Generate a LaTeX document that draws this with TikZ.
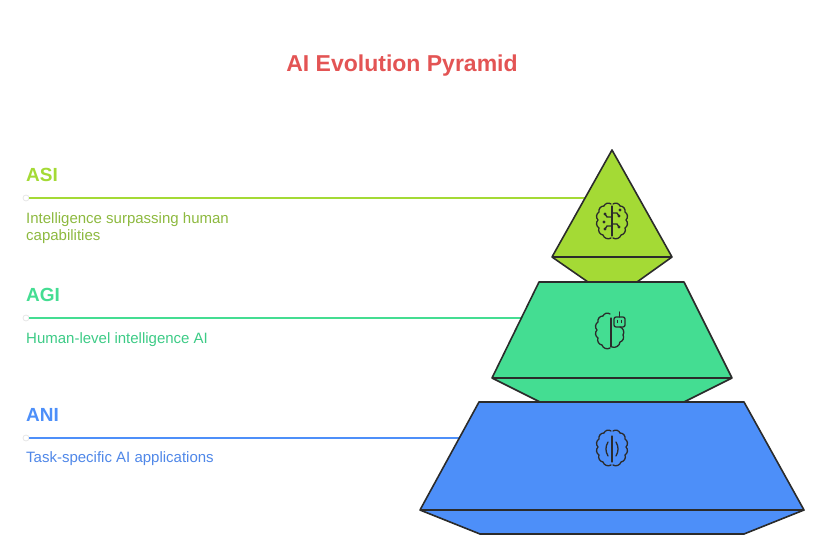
\documentclass[tikz,border=0pt]{standalone}
\usepackage{fontspec}
\setmainfont{Liberation Sans}
\usepackage{tikz}
\usepackage{xcolor}
\usetikzlibrary{arrows.meta, positioning, calc}

\definecolor{titlecol}{HTML}{E35454}
\definecolor{edgecol}{HTML}{2B2B2B}
\definecolor{dotcol}{HTML}{E6E6E6}
\definecolor{asifill}{HTML}{A4DA35}
\definecolor{asitext}{HTML}{8DB93F}
\definecolor{agifill}{HTML}{44DD92}
\definecolor{agitext}{HTML}{3DCB86}
\definecolor{anifill}{HTML}{4D8FF9}
\definecolor{anitext}{HTML}{4F87E8}

\begin{document}
\begin{tikzpicture}[x=1pt, y=-1pt,
    tier/.style={draw=edgecol, line width=1.6pt, line join=round},
    leader/.style={line width=1.6pt},
    dot/.style={circle, draw=dotcol, fill=white, line width=0.8pt, inner sep=0pt, minimum size=6pt},
    head/.style={font=\fontsize{19}{22}\selectfont\bfseries, anchor=base west, inner sep=0pt},
    desc/.style={font=\fontsize{15}{17}\selectfont, anchor=base west, inner sep=0pt, align=left},
    icon/.style={draw=edgecol, line width=1.3pt, line cap=round, line join=round},
    brainleft/.pic={
        \draw[icon] (-1,-17) to[bend right=55] (-8,-15) to[bend right=55] (-13,-9)
            to[bend right=55] (-14,-1) to[bend right=55] (-13,7) to[bend right=55] (-9,14)
            to[bend right=55] (-1,17);
    }
]

\useasboundingbox (0,0) rectangle (828,545);

% Title
\node[font=\fontsize{23}{26}\selectfont\bfseries, text=titlecol, anchor=base] (title) at (402,71.7) {AI Evolution Pyramid};

% Labels on the left
\node[head, text=asifill] (asi) at (26,181.7) {ASI};
\node[desc, text=asitext] (asi-desc) at (26,241) {Intelligence surpassing human\\capabilities};
\node[head, text=agifill] (agi) at (26,301.7) {AGI};
\node[desc, text=agitext] (agi-desc) at (26,344) {Human-level intelligence AI};
\node[head, text=anifill] (ani) at (26,421.7) {ANI};
\node[desc, text=anitext] (ani-desc) at (26,463) {Task-specific AI applications};

% Leader lines
\node[dot] (asi-dot) at (26,198) {};
\node[dot] (agi-dot) at (26,318) {};
\node[dot] (ani-dot) at (26,438) {};
\coordinate (asi-end) at (585.1,198);
\coordinate (agi-end) at (521.4,318);
\coordinate (ani-end) at (459.3,438);
\draw[leader, asifill] (asi-dot) -- (asi-end);
\draw[leader, agifill] (agi-dot) -- (agi-end);
\draw[leader, anifill] (ani-dot) -- (ani-end);

% Pyramid tiers - bottom first
\draw[tier, fill=anifill] (479,402) -- (744,402) -- (804,510) -- (744,534) -- (480,534) -- (420,510) -- cycle;
\draw[tier] (420,510) -- (804,510);
\draw[tier, fill=agifill] (539,282) -- (684,282) -- (732,378) -- (684,402) -- (540,402) -- (492,378) -- cycle;
\draw[tier] (492,378) -- (732,378);
\draw[tier, fill=asifill] (612,150) -- (672,257) -- (637,282) -- (588,282) -- (552,257) -- cycle;
\draw[tier] (552,257) -- (672,257);

% Icons
% ASI: brain with circuits
\pic at (612,221) {brainleft};
\pic[xscale=-1] at (612,221) {brainleft};
\begin{scope}[shift={(612,221)}]
    \draw[icon] (0,-15) -- (0,15);
    \draw[icon] (-1,-4) -- (-5,-4) -- (-7,-7);
    \draw[icon] (-1,5) -- (-5,5) -- (-7,8);
    \draw[icon] (1,-8) -- (5,-8) -- (7,-5);
    \draw[icon] (1,3) -- (5,3) -- (7,6);
    \foreach \p in {(-7,-7),(-7,8),(7,-5),(7,6),(-8,1),(8,-11)}
        \fill[edgecol] \p circle (1.6);
\end{scope}

% AGI: half brain with robot head
\pic at (611,331) {brainleft};
\begin{scope}[shift={(611,331)}]
    \draw[icon] (0,-13) -- (0,16);
    \draw[icon, rounded corners=2] (3,-14) rectangle (14,-4);
    \draw[icon] (8.5,-14) -- (8.5,-19);
    \draw[icon] (6.5,-10.5) -- (6.5,-8.5) (10.5,-10.5) -- (10.5,-8.5);
    \draw[icon] (9,-4) to[bend left=55] (12,4) to[bend left=55] (9,11) to[bend left=55] (1,16);
\end{scope}

% ANI: plain brain
\pic at (612,448) {brainleft};
\pic[xscale=-1] at (612,448) {brainleft};
\begin{scope}[shift={(612,448)}]
    \draw[icon] (0,-12) -- (0,14);
    \draw[icon] (-4,-6) to[bend right=30] (-4,8);
    \draw[icon] (4,-6) to[bend left=30] (4,8);
\end{scope}

\end{tikzpicture}
\end{document}
